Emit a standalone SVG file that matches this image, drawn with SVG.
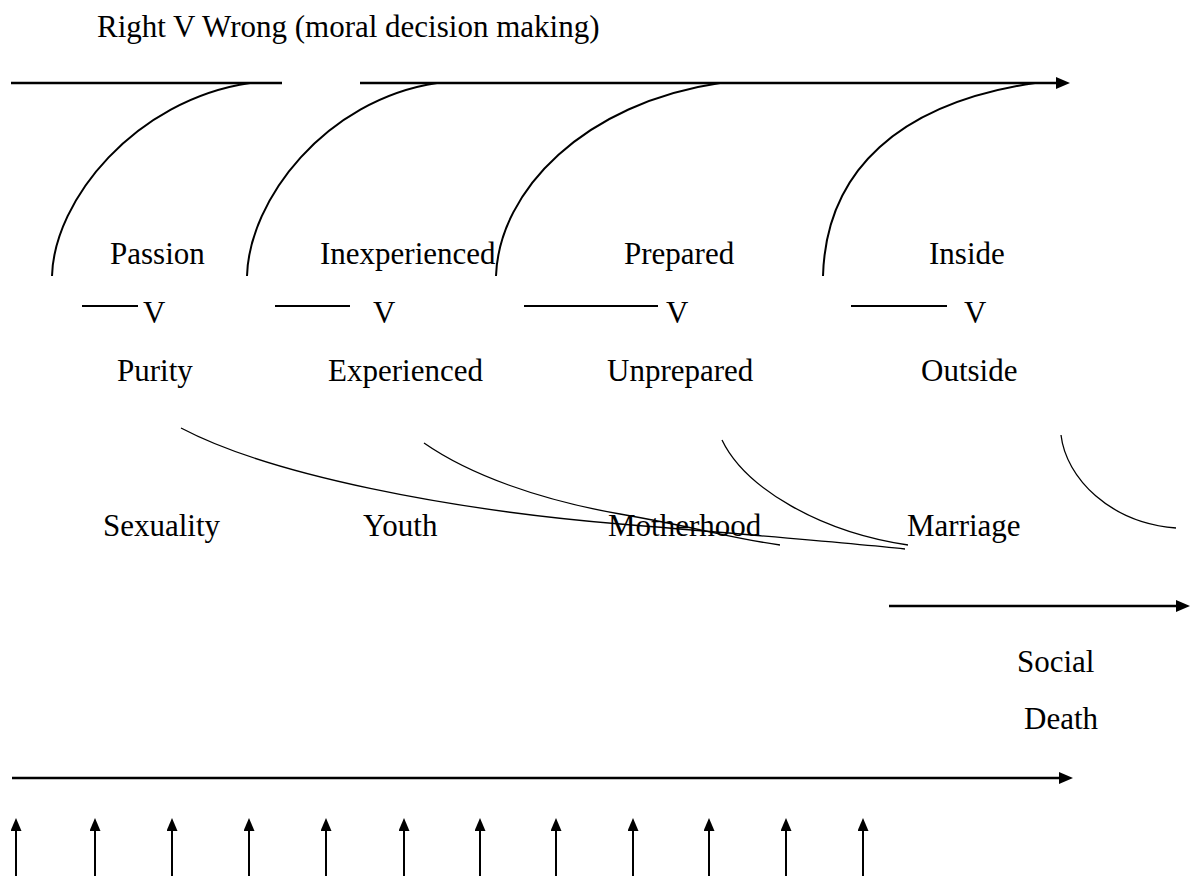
<svg xmlns="http://www.w3.org/2000/svg" width="1192" height="876" viewBox="0 0 1192 876">
<style>
text{font-family:"Liberation Serif","Times New Roman",serif;font-size:31px;fill:#000}
.thick{stroke:#000;stroke-width:2.5;fill:none}
.arc{stroke:#000;stroke-width:2;fill:none}
.thin{stroke:#000;stroke-width:1.3;fill:none}
.up{stroke:#000;stroke-width:2;fill:none}
</style>
<defs>
<marker id="ah" viewBox="0 0 14 12" refX="2" refY="6" markerWidth="14" markerHeight="12" markerUnits="userSpaceOnUse" orient="auto">
<path d="M0,0 L14,6 L0,12 z" fill="#000"/>
</marker>
<marker id="ahs" viewBox="0 0 13 11" refX="1" refY="5.5" markerWidth="13" markerHeight="11" markerUnits="userSpaceOnUse" orient="auto">
<path d="M0,0 L13,5.5 L0,11 z" fill="#000"/>
</marker>
</defs>
<rect width="1192" height="876" fill="#fff"/>

<g id="title"><text x="97" y="37">Right V Wrong (moral decision making)</text></g>

<g id="connectors">
<line class="thick" x1="11" y1="83" x2="282" y2="83"/>
<line class="thick" x1="360" y1="83" x2="1058" y2="83" marker-end="url(#ah)"/>
<path class="arc" d="M52,276 C54,200 135,100 250,83"/>
<path class="arc" d="M247,276 C249,200 325,100 437,83"/>
<path class="arc" d="M496,276 C499,190 585,103 720,83"/>
<path class="arc" d="M823,276 C826,170 900,103 1035,83"/>
<line class="arc" x1="82" y1="306" x2="138" y2="306"/>
<line class="arc" x1="275" y1="306" x2="350" y2="306"/>
<line class="arc" x1="524" y1="306" x2="658" y2="306"/>
<line class="arc" x1="851" y1="306" x2="947" y2="306"/>
<path class="thin" d="M181,428 C270,475 450,510 620,524 S850,543 905,549"/>
<path class="thin" d="M424,443 C470,475 540,500 620,514 S730,538 780,545"/>
<path class="thin" d="M722,440 C745,488 820,532 908,545"/>
<path class="thin" d="M1061,435 C1066,478 1110,523 1176,528"/>
<line class="thick" x1="889" y1="606" x2="1178" y2="606" marker-end="url(#ah)"/>
<line class="thick" x1="12" y1="778" x2="1061" y2="778" marker-end="url(#ah)"/>
<line class="up" x1="16" y1="876" x2="16" y2="830" marker-end="url(#ahs)"/>
<line class="up" x1="95" y1="876" x2="95" y2="830" marker-end="url(#ahs)"/>
<line class="up" x1="172" y1="876" x2="172" y2="830" marker-end="url(#ahs)"/>
<line class="up" x1="249" y1="876" x2="249" y2="830" marker-end="url(#ahs)"/>
<line class="up" x1="326" y1="876" x2="326" y2="830" marker-end="url(#ahs)"/>
<line class="up" x1="404" y1="876" x2="404" y2="830" marker-end="url(#ahs)"/>
<line class="up" x1="480" y1="876" x2="480" y2="830" marker-end="url(#ahs)"/>
<line class="up" x1="556" y1="876" x2="556" y2="830" marker-end="url(#ahs)"/>
<line class="up" x1="633" y1="876" x2="633" y2="830" marker-end="url(#ahs)"/>
<line class="up" x1="709" y1="876" x2="709" y2="830" marker-end="url(#ahs)"/>
<line class="up" x1="786" y1="876" x2="786" y2="830" marker-end="url(#ahs)"/>
<line class="up" x1="863" y1="876" x2="863" y2="830" marker-end="url(#ahs)"/>
</g>

<g id="passion"><text x="110" y="264">Passion</text></g>
<g id="inexperienced"><text x="320" y="264">Inexperienced</text></g>
<g id="prepared"><text x="624" y="264">Prepared</text></g>
<g id="inside"><text x="929" y="264">Inside</text></g>

<g id="v1"><text x="143" y="323">V</text></g>
<g id="v2"><text x="373" y="323">V</text></g>
<g id="v3"><text x="666" y="323">V</text></g>
<g id="v4"><text x="964" y="323">V</text></g>

<g id="purity"><text x="117" y="381">Purity</text></g>
<g id="experienced"><text x="328" y="381">Experienced</text></g>
<g id="unprepared"><text x="607" y="381">Unprepared</text></g>
<g id="outside"><text x="921" y="381">Outside</text></g>

<g id="sexuality"><text x="103" y="536">Sexuality</text></g>
<g id="youth"><text x="363" y="536">Youth</text></g>
<g id="motherhood"><text x="608" y="536">Motherhood</text></g>
<g id="marriage"><text x="907" y="536">Marriage</text></g>

<g id="social-death"><text x="1017" y="672">Social</text><text x="1024" y="729">Death</text></g>
</svg>
